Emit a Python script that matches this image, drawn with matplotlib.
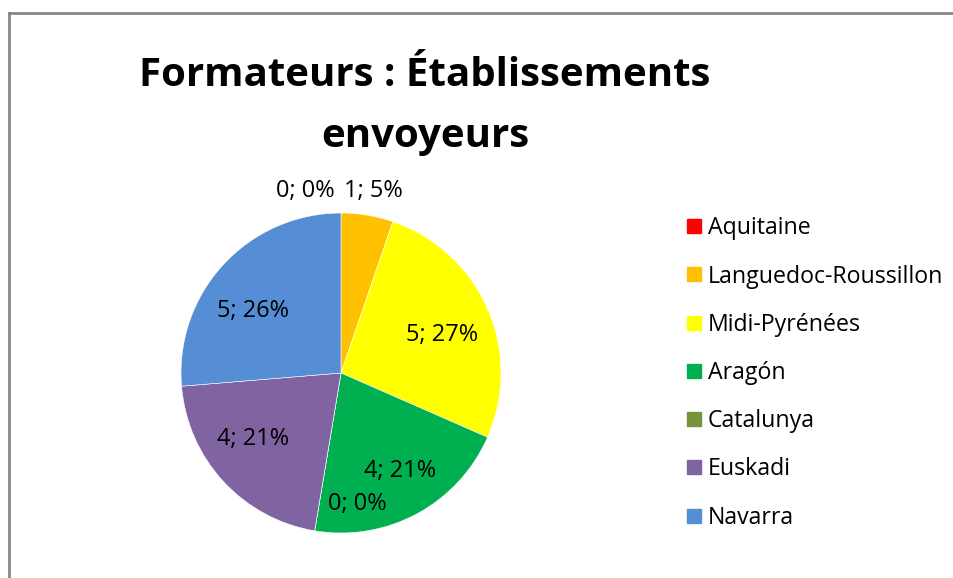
import matplotlib
matplotlib.use("Agg")
import matplotlib.pyplot as plt
from matplotlib.lines import Line2D

# data
regions = ["Aquitaine", "Languedoc-Roussillon", "Midi-Pyrénées", "Aragón",
           "Catalunya", "Euskadi", "Navarra"]
counts = [0, 1, 5, 4, 0, 4, 5]
pct_labels = ["0%", "5%", "27%", "21%", "0%", "21%", "26%"]
colors = ["#FF0000", "#FFC000", "#FFFF00", "#00B050", "#77933C", "#8064A2", "#558ED5"]

plt.rcParams['font.family'] = ['Open Sans', 'DejaVu Sans']

W, H = 954, 578
fig = plt.figure(figsize=(W / 100, H / 100), dpi=100)

# pie centre (341, 373) px, radius 160 px
cx, cy, r = 341, 373, 160
ax = fig.add_axes([(cx - r) / W, (H - cy - r) / H, 2 * r / W, 2 * r / H])
wedges, _ = ax.pie(counts, colors=colors, startangle=90, counterclock=False,
                   radius=1, wedgeprops=dict(edgecolor='white', linewidth=0.4))
ax.set_xlim(-1, 1)
ax.set_ylim(-1, 1)
ax.axis('off')

# label spots (in pie radius units), Excel "best fit" style
label_pos = [(-0.225, 1.14), (0.20, 1.14), (0.63, 0.24), (0.37, -0.61),
             (0.10, -0.82), (-0.55, -0.41), (-0.55, 0.39)]
for (x, y), n, p in zip(label_pos, counts, pct_labels):
    ax.text(x, y, f"{n}; {p}", ha='center', va='center', fontsize=17,
            color='#000000', clip_on=False)

fig.text(425 / W, 1 - 75 / H, "Formateurs : Établissements", ha='center', va='center',
         fontsize=29, fontweight='bold')
fig.text(425 / W, 1 - 137 / H, "envoyeurs", ha='center', va='center',
         fontsize=29, fontweight='bold')

handles = [Line2D([], [], marker='s', linestyle='none', markersize=9.5,
                  markerfacecolor=c, markeredgecolor=c) for c in colors]
fig.legend(handles, regions, loc='upper left', bbox_to_anchor=(677 / W, 1 - 207 / H),
           frameon=False, fontsize=16.7, handlelength=0.7, handletextpad=0.22,
           labelspacing=1.045, borderaxespad=0)

# chart area border (only top and left visible in the crop)
fig.add_artist(Line2D([9 / W, 9 / W], [0, 1 - 13 / H], color='#868686', linewidth=2,
                      transform=fig.transFigure))
fig.add_artist(Line2D([9 / W, 1], [1 - 13 / H, 1 - 13 / H], color='#868686', linewidth=2,
                      transform=fig.transFigure))

fig.savefig("out.png", dpi=100)
